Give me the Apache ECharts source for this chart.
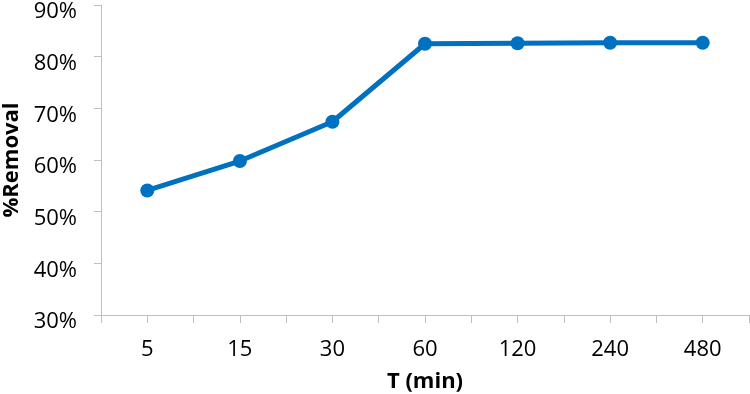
<!DOCTYPE html>
<html>
<head>
<meta charset="utf-8">
<script src="https://cdn.jsdelivr.net/npm/echarts@6/dist/echarts.min.js"></script>
<style>
  html, body { margin: 0; padding: 0; background: #fff; }
  #chart { width: 750px; height: 394px; }
</style>
</head>
<body>
<div id="chart"></div>
<script>
// time categories (min) and removal values (%)
var categories = ['5', '15', '30', '60', '120', '240', '480'];
var removal = [54.1, 59.8, 67.4, 82.5, 82.6, 82.7, 82.7];
var yMin = 30, yMax = 90, yStep = 10;

var myChart = echarts.init(document.getElementById('chart'));
var font = '"Open Sans", "Noto Sans", sans-serif';
var axisGray = '#bfbfbf';

var option = {
  animation: false,
  grid: { left: 101, right: 1, top: 5, bottom: 79, outerBoundsMode: 'none', containLabel: false },
  xAxis: [
    {
      type: 'category',
      data: categories,
      boundaryGap: true,
      position: 'bottom',
      name: 'T (min)',
      nameLocation: 'middle',
      nameGap: 56,
      nameTextStyle: { fontFamily: font, fontSize: 22, fontWeight: 'bold', color: '#000' },
      axisLine: { lineStyle: { color: axisGray, width: 1 } },
      axisTick: { show: true, inside: false, length: 8, lineStyle: { color: axisGray } },
      axisLabel: { margin: 24, fontFamily: font, fontSize: 22, color: '#000' },
      splitLine: { show: false }
    },
    {
      // second axis only draws the ticks under each category
      type: 'category',
      data: categories,
      position: 'bottom',
      axisLine: { show: false },
      axisTick: { show: true, alignWithLabel: true, length: 8, lineStyle: { color: axisGray } },
      axisLabel: { show: false },
      splitLine: { show: false }
    }
  ],
  yAxis: {
    type: 'value',
    min: yMin,
    max: yMax,
    interval: yStep,
    name: '%Removal',
    nameLocation: 'middle',
    nameGap: 78,
    nameTextStyle: { fontFamily: font, fontSize: 22, fontWeight: 'bold', color: '#000' },
    axisLine: { show: true, lineStyle: { color: axisGray, width: 1 } },
    axisTick: { show: true, length: 7, lineStyle: { color: axisGray } },
    axisLabel: {
      margin: 24,
      formatter: function (v) { return '{p|' + v + '%}'; },
      rich: {
        p: { fontFamily: font, fontSize: 22, color: '#000', padding: [14, 0, 0, 0] }
      }
    },
    splitLine: { show: false }
  },
  series: [
    {
      type: 'line',
      data: removal,
      xAxisIndex: 0,
      symbol: 'circle',
      symbolSize: 14,
      lineStyle: { color: '#0070c0', width: 5 },
      itemStyle: { color: '#0070c0' }
    }
  ]
};
myChart.setOption(option);
window.addEventListener('resize', function () {
  myChart.resize();
});
</script>
</body>
</html>
